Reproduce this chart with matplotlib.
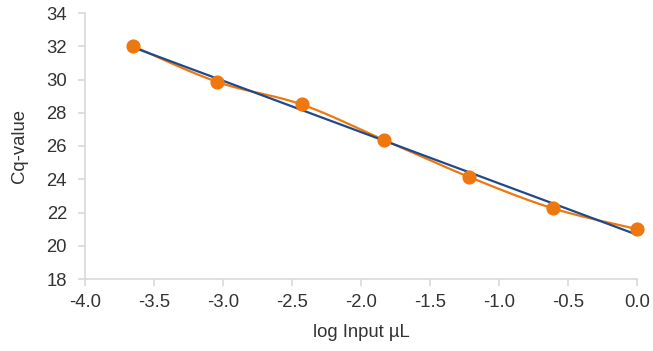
import numpy as np
import matplotlib
matplotlib.use("Agg")
import matplotlib.pyplot as plt

log_input = [-3.65, -3.04, -2.43, -1.83, -1.22, -0.61, 0.0]
cq_values = [32.0, 29.85, 28.5, 26.35, 24.15, 22.25, 21.0]
x_ticks = [-4.0, -3.5, -3.0, -2.5, -2.0, -1.5, -1.0, -0.5, 0.0]
y_ticks = [18, 20, 22, 24, 26, 28, 30, 32, 34]

plt.rcParams['font.family'] = ['Liberation Sans', 'DejaVu Sans']

def catmull_rom(xs, ys, n=30):
    P = np.column_stack([xs, ys])
    P = np.vstack([P[0], P, P[-1]])
    out = []
    for i in range(1, len(P) - 2):
        p0, p1, p2, p3 = P[i - 1], P[i], P[i + 1], P[i + 2]
        t = np.linspace(0, 1, n)[:, None]
        seg = 0.5 * ((2 * p1) + (-p0 + p2) * t + (2 * p0 - 5 * p1 + 4 * p2 - p3) * t ** 2
                     + (-p0 + 3 * p1 - 3 * p2 + p3) * t ** 3)
        out.append(seg)
    out = np.vstack(out)
    return out[:, 0], out[:, 1]

fig = plt.figure(figsize=(6.53, 3.51), dpi=100)
ax = fig.add_axes([85 / 653, 1 - 279 / 351, (637 - 85) / 653, (279 - 13) / 351])

orange = '#EE7710'
blue = '#1F4A8A'
text_c = '#333333'
fs = 13.3

sx, sy = catmull_rom(log_input, cq_values)
ax.plot(sx, sy, color=orange, lw=1.6, zorder=2)

slope, intercept = np.polyfit(log_input, cq_values, 1)
fx = np.array([min(log_input), max(log_input)])
ax.plot(fx, slope * fx + intercept, color=blue, lw=1.6, zorder=3)

ax.plot(log_input, cq_values, 'o', color=orange, ms=9.2, zorder=4, clip_on=False)

ax.set_xlim(-4.0, 0.0)
ax.set_ylim(18, 34)
ax.set_xticks(x_ticks)
ax.set_xticklabels([f"{v:.1f}" for v in x_ticks])
ax.set_yticks(y_ticks)

for s in ['top', 'right']:
    ax.spines[s].set_visible(False)
for s in ['left', 'bottom']:
    ax.spines[s].set_color('#d9d9d9')
    ax.spines[s].set_linewidth(1.2)
ax.tick_params(axis='both', colors='#d9d9d9', labelcolor=text_c, labelsize=fs,
               length=5, width=1.2, direction='out')
ax.tick_params(axis='y', pad=8)
ax.tick_params(axis='x', pad=6)

ax.set_xlabel('log Input µL', fontsize=fs, color=text_c, labelpad=9)
ax.set_ylabel('Cq-value', fontsize=fs, color=text_c, labelpad=13)

fig.savefig('out.png', dpi=100)
